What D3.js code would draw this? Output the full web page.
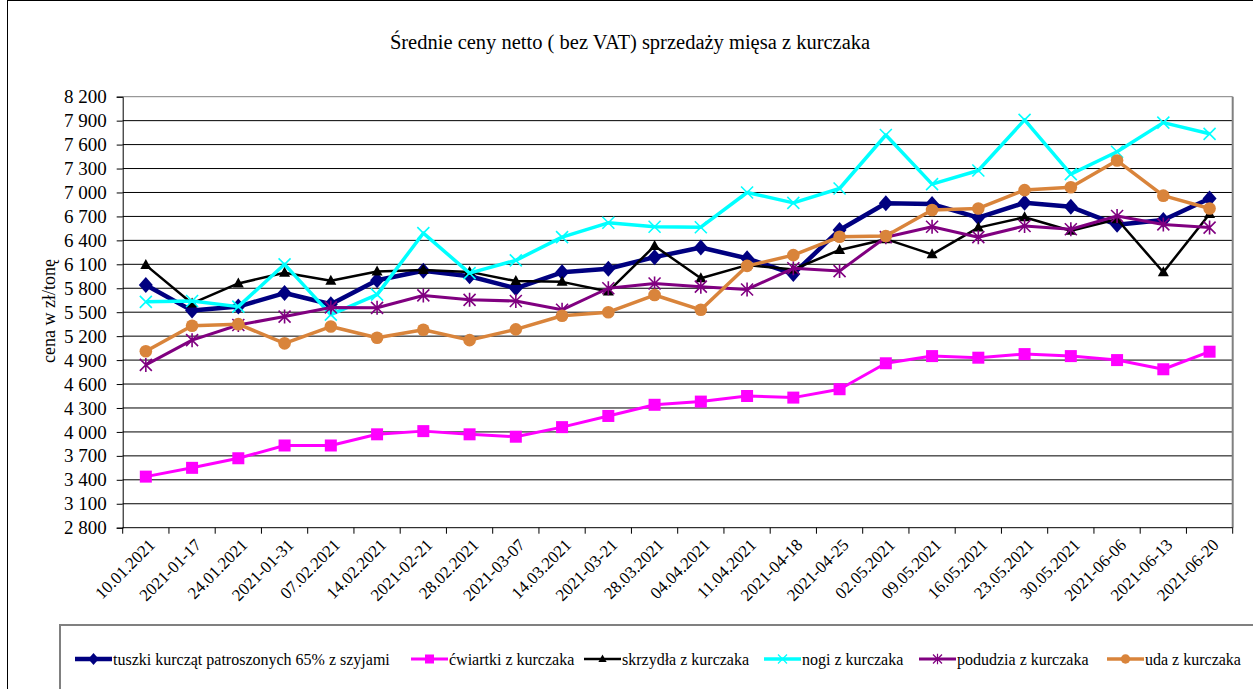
<!DOCTYPE html>
<html>
<head>
<meta charset="utf-8">
<script src="https://cdn.jsdelivr.net/npm/d3@7"></script>
<style>
  html, body { margin: 0; padding: 0; background: #fff; }
  svg { display: block; }
</style>
</head>
<body>
<svg id="chart" width="1253" height="689"></svg>
<script>
const categories = ["10.01.2021","2021-01-17","24.01.2021","2021-01-31","07.02.2021","14.02.2021","2021-02-21","28.02.2021","2021-03-07","14.03.2021","2021-03-21","28.03.2021","04.04.2021","11.04.2021","2021-04-18","2021-04-25","02.05.2021","09.05.2021","16.05.2021","23.05.2021","30.05.2021","2021-06-06","2021-06-13","2021-06-20"];

const tuszki   = [5840, 5520, 5570, 5740, 5600, 5900, 6020, 5950, 5800, 6000, 6045, 6190, 6310, 6175, 5980, 6530, 6865, 6855, 6685, 6870, 6820, 6595, 6655, 6925];
const cwiartki = [3440, 3550, 3670, 3830, 3830, 3970, 4010, 3970, 3940, 4060, 4200, 4340, 4380, 4450, 4430, 4535, 4860, 4950, 4930, 4975, 4950, 4900, 4785, 5005];
const skrzydla = [6090, 5610, 5860, 5995, 5895, 6010, 6030, 6005, 5890, 5880, 5760, 6330, 5925, 6090, 6035, 6280, 6415, 6225, 6560, 6690, 6520, 6665, 6000, 6730];
const nogi     = [5630, 5640, 5570, 6100, 5470, 5720, 6490, 5990, 6150, 6440, 6620, 6570, 6565, 7000, 6870, 7050, 7720, 7105, 7275, 7910, 7230, 7510, 7875, 7735];
const podudzia = [4840, 5150, 5340, 5445, 5560, 5555, 5710, 5655, 5640, 5530, 5800, 5860, 5820, 5785, 6050, 6015, 6440, 6570, 6440, 6580, 6540, 6705, 6600, 6560];
const uda      = [5010, 5330, 5350, 5110, 5320, 5180, 5280, 5150, 5285, 5455, 5500, 5715, 5530, 6080, 6215, 6445, 6455, 6780, 6800, 7030, 7065, 7400, 6960, 6800];

const yTicks = [2800, 3100, 3400, 3700, 4000, 4300, 4600, 4900, 5200, 5500, 5800, 6100, 6400, 6700, 7000, 7300, 7600, 7900, 8200];

const seriesNames = ["tuszki kurcząt patroszonych 65% z szyjami", "ćwiartki z kurczaka", "skrzydła z kurczaka", "nogi z kurczaka", "podudzia z kurczaka", "uda z kurczaka"];
const seriesValues = [tuszki, cwiartki, skrzydla, nogi, podudzia, uda];
const seriesColors = ["#000080", "#FF00FF", "#000000", "#00FFFF", "#800080", "#D9843B"];
const seriesWidths = [4.5, 3, 2.5, 3.5, 3, 3.5];
const seriesMarkers = ["diamond", "square", "triangle", "x", "star", "circle"];

const FONT = "Liberation Serif";
const svg = d3.select("#chart");
const L = 122.7, R = 1232.7, T = 96.7, B = 527.7;

// outer frame
svg.append("rect").attr("x", 7.5).attr("y", 0.5).attr("width", 1300).attr("height", 1300)
  .attr("fill", "none").attr("stroke", "#000").attr("stroke-width", 1);

const x = d3.scaleBand().domain(categories).range([L, R]).padding(0);
const y = d3.scaleLinear().domain([2800, 8200]).range([B, T]);

// gridlines
svg.append("g").selectAll("line").data(yTicks.filter(v => v > 2800)).join("line")
  .attr("x1", L).attr("x2", R).attr("y1", d => y(d)).attr("y2", d => y(d))
  .attr("stroke", d => d === 8200 ? "#808080" : "#000").attr("stroke-width", 1);

// right border
svg.append("line").attr("x1", R).attr("x2", R).attr("y1", T).attr("y2", B)
  .attr("stroke", "#808080").attr("stroke-width", 2);

// y axis
const yAxis = d3.axisLeft(y).tickValues(yTicks).tickSize(6).tickPadding(10)
  .tickFormat(d => d3.format(",")(d).replace(/,/g, " "));
const gy = svg.append("g").attr("transform", `translate(${L},0)`).call(yAxis);
gy.attr("font-family", FONT).attr("font-size", 19);
gy.select(".domain").attr("stroke", "#000");
gy.selectAll(".tick line").attr("stroke", "#000");
gy.selectAll(".tick text").style("font-family", FONT).style("font-size", "19px").attr("fill", "#000");

// x axis: ticks at category boundaries
svg.append("line").attr("x1", L).attr("x2", R).attr("y1", B).attr("y2", B).attr("stroke", "#000");
const bounds = categories.map(c => x(c)).concat([R]);
svg.append("g").selectAll("line").data(bounds).join("line")
  .attr("x1", d => d).attr("x2", d => d).attr("y1", B).attr("y2", B + 6).attr("stroke", "#000");
svg.append("g").selectAll("text").data(categories).join("text")
  .attr("transform", d => `translate(${x(d) + x.bandwidth() / 2 + 6},${B + 14}) rotate(-45)`)
  .attr("text-anchor", "end").attr("dy", "0.35em")
  .style("font-family", FONT).style("font-size", "17px").attr("fill", "#000").text(d => d);

// title
svg.append("text").attr("x", 630).attr("y", 49).attr("text-anchor", "middle")
  .style("font-family", FONT).style("font-size", "20.5px").attr("fill", "#000")
  .text("Średnie ceny netto ( bez VAT) sprzedaży mięsa z kurczaka");

// y label
svg.append("text").attr("transform", "translate(55,311) rotate(-90)").attr("text-anchor", "middle")
  .style("font-family", FONT).style("font-size", "18px").attr("fill", "#000").text("cena w zł/tonę");

function drawMarker(g, type, color, cx, cy) {
  if (type === "diamond") {
    g.append("path").attr("d", `M${cx},${cy - 8}L${cx + 7},${cy}L${cx},${cy + 8}L${cx - 7},${cy}Z`).attr("fill", color);
  } else if (type === "square") {
    g.append("rect").attr("x", cx - 6).attr("y", cy - 6).attr("width", 12).attr("height", 12).attr("fill", color);
  } else if (type === "triangle") {
    g.append("path").attr("d", `M${cx},${cy - 6}L${cx + 5.5},${cy + 4}L${cx - 5.5},${cy + 4}Z`).attr("fill", color);
  } else if (type === "x") {
    g.append("path").attr("d", `M${cx - 6},${cy - 6}L${cx + 6},${cy + 6}M${cx - 6},${cy + 6}L${cx + 6},${cy - 6}`)
      .attr("stroke", color).attr("stroke-width", 1.6).attr("fill", "none");
  } else if (type === "star") {
    g.append("path").attr("d", `M${cx - 6},${cy - 6}L${cx + 6},${cy + 6}M${cx - 6},${cy + 6}L${cx + 6},${cy - 6}M${cx},${cy - 7}L${cx},${cy + 7}`)
      .attr("stroke", color).attr("stroke-width", 1.6).attr("fill", "none");
  } else if (type === "circle") {
    g.append("circle").attr("cx", cx).attr("cy", cy).attr("r", 6.3).attr("fill", color);
  }
}

const line = d3.line().x((d, i) => x(categories[i]) + x.bandwidth() / 2).y(d => y(d));

seriesValues.forEach((vals, s) => {
  const g = svg.append("g");
  g.append("path").datum(vals).attr("d", line).attr("fill", "none")
    .attr("stroke", seriesColors[s]).attr("stroke-width", seriesWidths[s]).attr("stroke-linejoin", "round");
  vals.forEach((v, i) => drawMarker(g, seriesMarkers[s], seriesColors[s], x(categories[i]) + x.bandwidth() / 2, y(v)));
});

// legend
svg.append("rect").attr("x", 60).attr("y", 625).attr("width", 1300).attr("height", 200)
  .attr("fill", "none").attr("stroke", "#808080").attr("stroke-width", 2);
const legendX = [75, 411, 584, 764, 919, 1107];
const lg = svg.append("g");
seriesNames.forEach((name, s) => {
  const lx = legendX[s], ly = 659;
  lg.append("line").attr("x1", lx).attr("x2", lx + 37).attr("y1", ly).attr("y2", ly)
    .attr("stroke", seriesColors[s]).attr("stroke-width", seriesWidths[s]);
  const m = lg.append("g").attr("transform", `translate(${lx + 18.5},${ly}) scale(0.75) translate(${-(lx + 18.5)},${-ly})`);
  drawMarker(m, seriesMarkers[s], seriesColors[s], lx + 18.5, ly);
  lg.append("text").attr("x", lx + 38).attr("y", ly).attr("dy", "0.35em")
    .style("font-family", FONT).style("font-size", "16px").attr("fill", "#000").text(name);
});
</script>
</body>
</html>
